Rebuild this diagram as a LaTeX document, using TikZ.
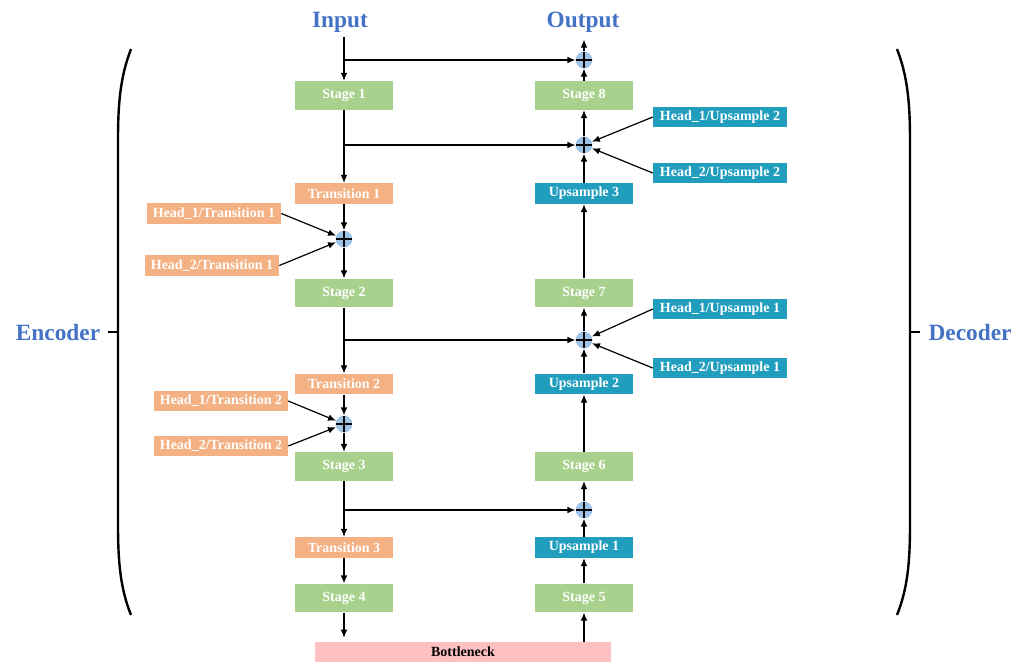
\documentclass[tikz,border=0pt]{standalone}
\usepackage{fontspec}
\setmainfont{Liberation Serif}
\usetikzlibrary{arrows.meta}

\definecolor{stagegreen}{HTML}{A9D18E}
\definecolor{transorange}{HTML}{F4B183}
\definecolor{upteal}{HTML}{219EBE}
\definecolor{neckpink}{HTML}{FFC0C2}
\definecolor{titleblue}{HTML}{4472C4}
\definecolor{plusblue}{HTML}{9DC3E6}

\tikzset{
  box/.style={inner sep=0pt, text=white, font=\fontsize{10.5}{12}\selectfont\bfseries},
  stagebox/.style={box, fill=stagegreen, minimum width=73.5pt, minimum height=21.5pt},
  transbox/.style={box, fill=transorange, minimum width=73.5pt, minimum height=15.5pt},
  upbox/.style={box, fill=upteal, minimum width=73.5pt, minimum height=15.5pt},
  headt/.style={box, fill=transorange, minimum width=100.5pt, minimum height=15.5pt},
  headu/.style={box, fill=upteal, minimum width=100.5pt, minimum height=15.5pt},
  plus/.style={circle, fill=plusblue, inner sep=0pt, minimum size=12.5pt,
    path picture={\draw[line width=1.5pt]
      (path picture bounding box.north) -- (path picture bounding box.south)
      (path picture bounding box.west) -- (path picture bounding box.east);}},
  title/.style={text=titleblue, font=\fontsize{17.5}{20}\selectfont\bfseries},
  arr/.style={line width=0.9pt, -{Latex[length=6pt,width=5pt]}},
  brack/.style={line width=1.8pt}
}

\begin{document}
\begin{tikzpicture}[x=0.75pt,y=-0.75pt]
\useasboundingbox (0,0) rectangle (1026,662);

% titles
\node[title] (in) at (340,22) {Input};
\node[title] (out) at (583,22) {Output};
\node[title] (enc) at (58,333) {Encoder};
\node[title] (dec) at (970,333) {Decoder};

% encoder
\node[stagebox] (s1) at (344,95.5) {Stage 1};
\node[transbox] (t1) at (344,193.5) {Transition 1};
\node[stagebox] (s2) at (344,293) {Stage 2};
\node[transbox] (t2) at (344,384) {Transition 2};
\node[stagebox] (s3) at (344,466.5) {Stage 3};
\node[transbox] (t3) at (344,547.5) {Transition 3};
\node[stagebox] (s4) at (344,598) {Stage 4};

\node[headt] (h1t1) at (214,213.5) {Head\_1/Transition 1};
\node[headt] (h2t1) at (212,265.5) {Head\_2/Transition 1};
\node[headt] (h1t2) at (221,401) {Head\_1/Transition 2};
\node[headt] (h2t2) at (221,446) {Head\_2/Transition 2};

% decoder
\node[stagebox] (s8) at (584,95.5) {Stage 8};
\node[upbox] (u3) at (584,193.5) {Upsample 3};
\node[stagebox] (s7) at (584,293) {Stage 7};
\node[upbox] (u2) at (584,384) {Upsample 2};
\node[stagebox] (s6) at (584,466.5) {Stage 6};
\node[upbox] (u1) at (584,547.5) {Upsample 1};
\node[stagebox] (s5) at (584,598) {Stage 5};

\node[headu] (h1u2) at (720,117) {Head\_1/Upsample 2};
\node[headu] (h2u2) at (720,173) {Head\_2/Upsample 2};
\node[headu] (h1u1) at (720,309) {Head\_1/Upsample 1};
\node[headu] (h2u1) at (720,368) {Head\_2/Upsample 1};

\node[box, fill=neckpink, text=black, minimum width=222pt, minimum height=15pt] (bn) at (463,652) {Bottleneck};

% adders
\node[plus] (p1) at (584,60) {};
\node[plus] (p2) at (584,145) {};
\node[plus] (p3) at (344,239) {};
\node[plus] (p4) at (584,340) {};
\node[plus] (p5) at (344,424) {};
\node[plus] (p6) at (584,510) {};

% encoder path
\draw[arr] (s1.north |- in.south) -- (s1.north);
\draw[arr] (s1.south) -- (t1.north);
\draw[arr] (t1.south) -- (p3);
\draw[arr] (p3) -- (s2.north);
\draw[arr] (s2.south) -- (t2.north);
\draw[arr] (t2.south) -- (p5);
\draw[arr] (p5) -- (s3.north);
\draw[arr] (s3.south) -- (t3.north);
\draw[arr] (t3.south) -- (s4.north);
\draw[arr] (s4.south) -- ([yshift=3pt]s4.south |- bn.north);

\draw[arr] (h1t1.east) -- (p3);
\draw[arr] (h2t1.east) -- (p3);
\draw[arr] (h1t2.east) -- (p5);
\draw[arr] (h2t2.east) -- (p5);

% skips
\draw[arr] (s1.north |- p1) -- (p1);
\draw[arr] (s1.south |- p2) -- (p2);
\draw[arr] (s2.south |- p4) -- (p4);
\draw[arr] (s3.south |- p6) -- (p6);

% decoder path
\draw[arr] (bn.north -| s5.south) -- (s5.south);
\draw[arr] (s5.north) -- (u1.south);
\draw[arr] (u1.north) -- (p6);
\draw[arr] (p6) -- (s6.south);
\draw[arr] (s6.north) -- (u2.south);
\draw[arr] (u2.north) -- (p4);
\draw[arr] (p4) -- (s7.south);
\draw[arr] (s7.north) -- (u3.south);
\draw[arr] (u3.north) -- (p2);
\draw[arr] (p2) -- (s8.south);
\draw[arr] (s8.north) -- (p1);
\draw[arr] (p1) -- ([yshift=-2pt]p1.north |- out.south);

\draw[arr] (h1u2.west) -- (p2);
\draw[arr] (h2u2.west) -- (p2);
\draw[arr] (h1u1.west) -- (p4);
\draw[arr] (h2u1.west) -- (p4);

% brackets
\draw[brack] (131,49) .. controls (121,75) and (118,100) .. (118,140)
  -- (118,525) .. controls (118,565) and (121,590) .. (131,615);
\draw[brack] (118,332) -- (108,332);
\draw[brack] (897,49) .. controls (907,75) and (910,100) .. (910,140)
  -- (910,525) .. controls (910,565) and (907,590) .. (897,615);
\draw[brack] (910,332) -- (920,332);

\end{tikzpicture}
\end{document}
